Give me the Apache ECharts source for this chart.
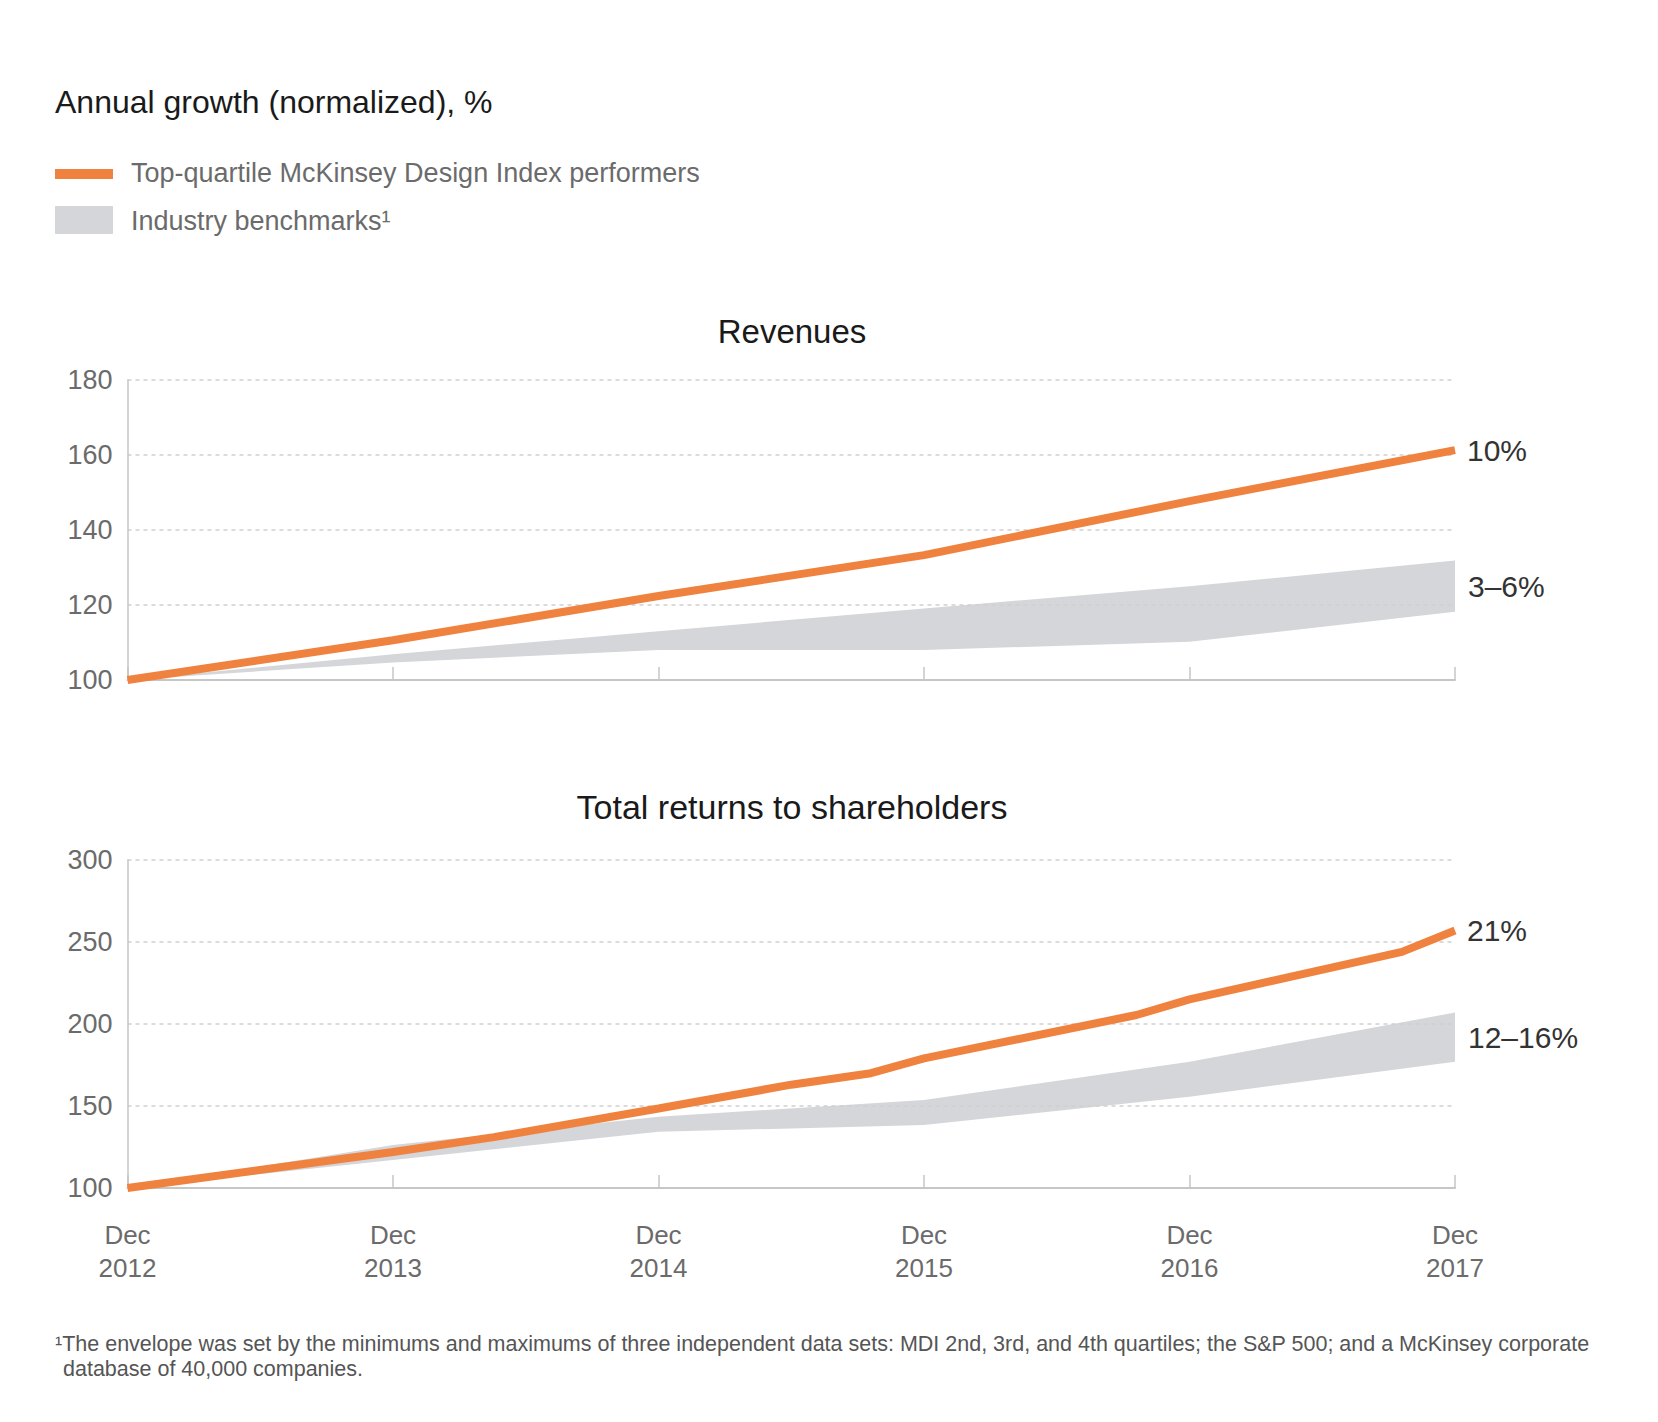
<!DOCTYPE html>
<html>
<head>
<meta charset="utf-8">
<script src="https://cdn.jsdelivr.net/npm/echarts@6/dist/echarts.min.js"></script>
<style>
  html, body { margin: 0; padding: 0; background: #fff; }
  #main { width: 1658px; height: 1422px; }
</style>
</head>
<body>
<div id="main"></div>
<script>
// years on the x axis
var years = [2012, 2013, 2014, 2015, 2016, 2017];

// Revenues
var revTop = [100, 110.6, 122.4, 133.3, 147.7, 161.3];
var revBandHigh = [100, 106.9, 113, 119.1, 125, 131.9];
var revBandLow = [100, 104.7, 108, 108, 110.2, 118.2];

// Total returns to shareholders (orange line has a few extra vertices)
var tsrTopX = [2012, 2013, 2013.38, 2014, 2014.5, 2014.8, 2015, 2015.8, 2016, 2016.8, 2017];
var tsrTop = [100, 122, 131, 148.5, 163, 170, 179, 205.5, 215, 244, 257];
var tsrBandHigh = [100, 126.2, 143.5, 153.7, 177, 207];
var tsrBandLow = [100, 117, 134.3, 138.4, 155.7, 177];

var revTicks = [100, 120, 140, 160, 180];
var tsrTicks = [100, 150, 200, 250, 300];

var FONT = '"Liberation Sans", Arial, Helvetica, sans-serif';
var ORANGE = '#f0823f';
var BAND = '#d4d6d9';
var AXIS = '#c6c6c6';

function pairs(xs, ys) {
    var out = [];
    for (var i = 0; i < xs.length; i++) out.push([xs[i], ys[i]]);
    return out;
}

function xAxisOf(gridIndex, showLabel) {
    return {
        type: 'value', gridIndex: gridIndex,
        min: 2012, max: 2017, interval: 1,
        z: 3,
        axisLine: { show: true, lineStyle: { color: AXIS, width: 2 } },
        axisTick: { show: true, inside: true, length: 13, lineStyle: { color: AXIS, width: 1.5 } },
        splitLine: { show: false },
        axisLabel: {
            show: showLabel, margin: 30, color: '#6b6b6b', fontSize: 26, lineHeight: 33,
            fontFamily: FONT, align: 'center',
            formatter: function (v) { return 'Dec\n' + v; }
        }
    };
}
function yAxisOf(gridIndex, ticks) {
    return {
        type: 'value', gridIndex: gridIndex,
        min: ticks[0], max: ticks[ticks.length - 1], interval: ticks[1] - ticks[0],
        z: 3,
        axisLine: { show: true, lineStyle: { color: AXIS, width: 1.5 } },
        axisTick: { show: false },
        splitLine: { show: true, lineStyle: { color: '#cfcfcf', width: 1.5, type: [4, 4] } },
        axisLabel: { margin: 15, color: '#6b6b6b', fontSize: 27, fontFamily: FONT }
    };
}

// envelope drawn as one polygon, points placed by the axes
function bandSeries(idx, hi, lo, label) {
    var data = [];
    for (var i = 0; i < years.length; i++) data.push([years[i], lo[i], hi[i]]);
    return {
        type: 'custom', xAxisIndex: idx, yAxisIndex: idx, z: 1, silent: true,
        encode: { x: 0, y: [1, 2] },
        data: data,
        renderItem: function (params, api) {
            if (params.dataIndex !== 0) return null;
            var top = [], bottom = [];
            for (var i = 0; i < data.length; i++) {
                top.push(api.coord([data[i][0], data[i][2]]));
                bottom.unshift(api.coord([data[i][0], data[i][1]]));
            }
            var n = data.length - 1;
            var a = api.coord([data[n][0], data[n][2]]);
            var b = api.coord([data[n][0], data[n][1]]);
            return {
                type: 'group',
                children: [
                    { type: 'polygon', shape: { points: top.concat(bottom) }, style: { fill: BAND } },
                    {
                        type: 'text', x: a[0] + 13, y: (a[1] + b[1]) / 2,
                        style: { text: label, font: '30px ' + FONT, fill: '#333', textVerticalAlign: 'middle' }
                    }
                ]
            };
        }
    };
}
function topSeries(idx, xs, ys, label) {
    return {
        type: 'line', xAxisIndex: idx, yAxisIndex: idx,
        data: pairs(xs, ys), showSymbol: false, silent: true, z: 5,
        lineStyle: { color: ORANGE, width: 8 },
        endLabel: {
            show: true, formatter: label, distance: 12,
            color: '#333', fontSize: 30, fontFamily: FONT
        }
    };
}

var chart = echarts.init(document.getElementById('main'), null, { renderer: 'svg' });

var option = {
    animation: false,
    backgroundColor: '#fff',
    grid: [
        { left: 127.5, top: 380, width: 1327.5, height: 300 },
        { left: 127.5, top: 860, width: 1327.5, height: 328 }
    ],
    xAxis: [xAxisOf(0, false), xAxisOf(1, true)],
    yAxis: [yAxisOf(0, revTicks), yAxisOf(1, tsrTicks)],
    series: [
        bandSeries(0, revBandHigh, revBandLow, '3\u20136%'),
        topSeries(0, years, revTop, '10%'),
        bandSeries(1, tsrBandHigh, tsrBandLow, '12\u201316%'),
        topSeries(1, tsrTopX, tsrTop, '21%')
    ],
    graphic: [
        { type: 'text', x: 55, y: 102, style: { text: 'Annual growth (normalized), %', font: '32px ' + FONT, fill: '#1a1a1a', textVerticalAlign: 'middle' } },
        { type: 'rect', shape: { x: 55, y: 169, width: 58, height: 10 }, style: { fill: ORANGE } },
        { type: 'text', x: 131, y: 173, style: { text: 'Top-quartile McKinsey Design Index performers', font: '27px ' + FONT, fill: '#6b6b6b', textVerticalAlign: 'middle' } },
        { type: 'rect', shape: { x: 55, y: 206, width: 58, height: 28 }, style: { fill: BAND } },
        { type: 'text', x: 131, y: 221, style: { text: 'Industry benchmarks\u00b9', font: '27px ' + FONT, fill: '#6b6b6b', textVerticalAlign: 'middle' } },
        { type: 'text', x: 792, y: 331, style: { text: 'Revenues', font: '33px ' + FONT, fill: '#1a1a1a', textAlign: 'center', textVerticalAlign: 'middle' } },
        { type: 'text', x: 792, y: 807, style: { text: 'Total returns to shareholders', font: '34px ' + FONT, fill: '#1a1a1a', textAlign: 'center', textVerticalAlign: 'middle' } },
        { type: 'text', x: 55, y: 1344, style: { text: '\u00b9The envelope was set by the minimums and maximums of three independent data sets: MDI 2nd, 3rd, and 4th quartiles; the S&P 500; and a McKinsey corporate', font: '21.5px ' + FONT, fill: '#555', textVerticalAlign: 'middle' } },
        { type: 'text', x: 63, y: 1369, style: { text: 'database of 40,000 companies.', font: '21.5px ' + FONT, fill: '#555', textVerticalAlign: 'middle' } }
    ]
};

chart.setOption(option);
</script>
</body>
</html>
